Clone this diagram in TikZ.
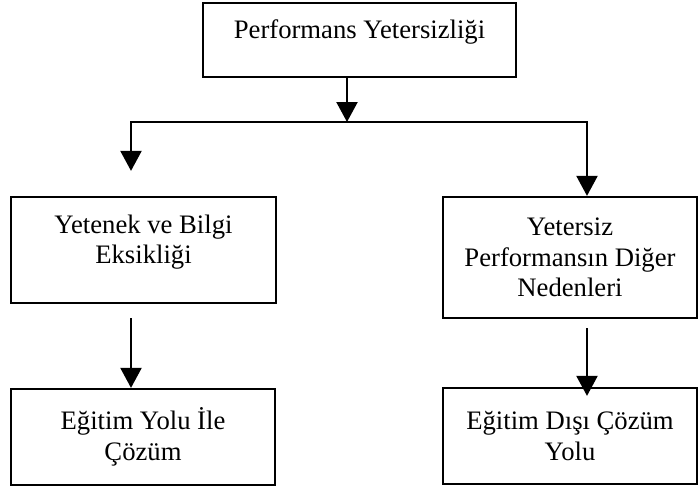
\documentclass[tikz,border=0pt]{standalone}
\usepackage{fontspec}
\setmainfont{Liberation Serif}
\usepackage{tikz}
\usetikzlibrary{arrows.meta}
\tikzstyle{kutu} = [rectangle,draw=black,line width=1.7pt,fill=white,text=black,align=center,inner sep=0pt]
\tikzstyle{cizgi} = [line width=1.7pt]
\tikzstyle{okcizgi} = [line width=1.7pt,-{Triangle[width=15.75pt,length=15pt]}]

\begin{document}
\begin{tikzpicture}[x=0.75pt,y=-0.75pt]
\tikzstyle{every node}=[font=\fontsize{20}{23}\selectfont]
\useasboundingbox (0,0) rectangle (699,489);

\node (top) [kutu,minimum width=234.75pt,minimum height=55.5pt,text depth=16pt] at (359.5,40) {Performans Yetersizliği};

\node (yetenek) [kutu,minimum width=198.75pt,minimum height=79.5pt,text depth=16pt] at (143.5,250) {Yetenek ve Bilgi\\Eksikliği};
\node (diger) [kutu,minimum width=190.5pt,minimum height=90.75pt] at (570,257.5) {Yetersiz\\Performansın Diğer\\Nedenleri};

\node (egitim) [kutu,minimum width=198pt,minimum height=72pt] at (143,437) {Eğitim Yolu İle\\Çözüm};
\node (disi) [kutu,minimum width=190.5pt,minimum height=72pt] at (570,436) {Eğitim Dışı Çözüm\\Yolu};

% dallanma noktalari
\coordinate (ayrim) at (347,122);
\coordinate (solk) at (131,122);
\coordinate (sagk) at (587,122);

\draw[okcizgi] (top.south -| ayrim) -- (ayrim);
\draw[okcizgi,shorten >=18.75pt] (ayrim) -| (yetenek.north -| solk);
\draw[okcizgi] (ayrim) -| (diger.north -| sagk);

\draw[okcizgi,shorten <=10.5pt] (yetenek.south -| solk) -- (egitim.north -| solk);
\draw[okcizgi,shorten <=6.75pt,shorten >=-6.75pt] (diger.south -| sagk) -- (disi.north -| sagk);
\end{tikzpicture}
\end{document}
